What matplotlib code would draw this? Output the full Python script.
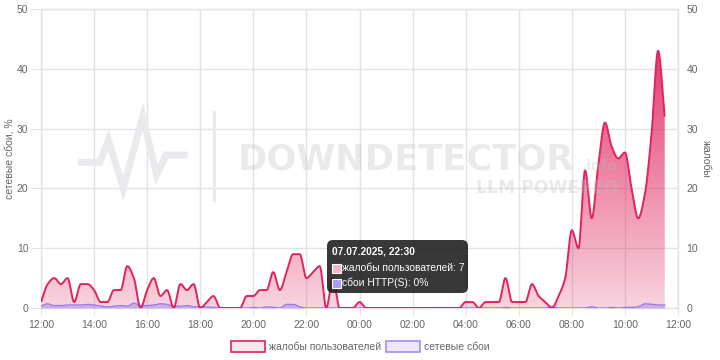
import numpy as np
import pandas as pd
import matplotlib
matplotlib.use("Agg")
import matplotlib.pyplot as plt
from matplotlib.patches import Polygon, Rectangle, FancyBboxPatch
from matplotlib.lines import Line2D
from matplotlib.transforms import IdentityTransform

plt.rcParams['font.family'] = ['Liberation Sans', 'DejaVu Sans']

# ---------------- data ----------------
start_time = "2025-07-07 12:00"
complaints = [1, 4, 5, 4, 5, 1, 4, 4, 3, 1, 1, 3, 3, 7, 5, 0,      # 12:00 - 15:45
              3, 5, 2, 3, 0, 4, 3, 4, 0, 1, 2, 0, 0, 0, 0, 2,      # 16:00 - 19:45
              2, 3, 3, 6, 3, 6, 9, 9, 5, 6, 7, 0, 5, 0, 0, 0,      # 20:00 - 23:45
              1, 0, 0, 0, 0, 0, 0, 0, 0, 0, 0, 0, 0, 0, 0, 0,      # 00:00 - 03:45
              1, 1, 0, 1, 1, 1, 5, 1, 1, 1, 4, 2, 1, 0, 2, 5,      # 04:00 - 07:45
              13, 10, 23, 15, 24, 31, 27, 25, 26, 20, 15, 19, 29, 43, 32]  # 08:00 - 11:30
http_failures = [0.3, 0.7, 0.4, 0.4, 0.5, 0.5, 0.5, 0.6, 0.5, 0.3, 0.2, 0.3, 0.4, 0.3, 0.8, 0.4,
                 0.4, 0.5, 0.7, 0.6, 0.3, 0.3, 0.4, 0.2, 0.2, 0.2, 0.1, 0.0, 0.0, 0.0, 0.0, 0.0,
                 0.1, 0.0, 0.2, 0.1, 0.0, 0.6, 0.6, 0.2, 0.0, 0.0, 0.0, 0.0, 0.0, 0.0, 0.0, 0.0,
                 0.0, 0.0, 0.0, 0.0, 0.0, 0.0, 0.0, 0.0, 0.0, 0.0, 0.0, 0.0, 0.0, 0.0, 0.0, 0.0,
                 0.0, 0.0, 0.0, 0.0, 0.0, 0.0, 0.1, 0.0, 0.0, 0.0, 0.0, 0.0, 0.0, 0.3, 0.0, 0.0,
                 0.0, 0.0, 0.0, 0.2, 0.0, 0.0, 0.1, 0.0, 0.1, 0.1, 0.2, 0.7, 0.6, 0.5, 0.5]
x_tick_labels = ["12:00", "14:00", "16:00", "18:00", "20:00", "22:00", "00:00",
                 "02:00", "04:00", "06:00", "08:00", "10:00", "12:00"]
y_ticks = [0, 10, 20, 30, 40, 50]
series_names = ["жалобы пользователей", "сетевые сбои"]
left_label = "сетевые сбои, %"
right_label = "жалобы"
tooltip_title = "07.07.2025, 22:30"
tooltip_rows = ["жалобы пользователей: 7", "сбои HTTP(S): 0%"]

times = pd.date_range(start_time, periods=len(complaints), freq="15min")
hours = np.asarray((times - times[0]).total_seconds() / 3600.0)
tick_hours = np.arange(len(x_tick_labels)) * 2


def pchip(x, y, xn):
    x = np.asarray(x, float)
    y = np.asarray(y, float)
    h = np.diff(x)
    d = np.diff(y) / h
    n = len(x)
    m = np.zeros(n)
    for k in range(1, n - 1):
        if d[k - 1] * d[k] > 0:
            w1 = 2 * h[k] + h[k - 1]
            w2 = h[k] + 2 * h[k - 1]
            m[k] = (w1 + w2) / (w1 / d[k - 1] + w2 / d[k])
    m[0] = d[0]
    m[-1] = d[-1]
    idx = np.clip(np.searchsorted(x, xn) - 1, 0, n - 2)
    t = (xn - x[idx]) / h[idx]
    h00 = 2 * t**3 - 3 * t**2 + 1
    h10 = t**3 - 2 * t**2 + t
    h01 = -2 * t**3 + 3 * t**2
    h11 = t**3 - t**2
    return h00 * y[idx] + h10 * h[idx] * m[idx] + h01 * y[idx + 1] + h11 * h[idx] * m[idx + 1]


xs = np.linspace(hours[0], hours[-1], 3000)
yc = np.clip(pchip(hours, complaints, xs), 0, None)
yh = np.clip(pchip(hours, http_failures, xs), 0, None)

# ---------------- figure ----------------
W, H = 720, 360
fig = plt.figure(figsize=(W / 100, H / 100), dpi=100)
ax = fig.add_axes([41 / W, 1 - 308 / H, 637 / W, 299 / H])
ax.set_xlim(0, 24)
ax.set_ylim(0, 50)

grid_c = '#e3e3e3'
lab_c = '#666666'
ax.set_xticks(tick_hours)
ax.set_xticklabels(x_tick_labels)
ax.set_yticks(y_ticks)
ax.grid(True, color=grid_c, lw=1)
ax.set_axisbelow(True)
ax.tick_params(axis='x', length=5, color=grid_c, labelcolor=lab_c, labelsize=7.5, pad=4)
ax.tick_params(axis='y', length=7, color=grid_c, labelcolor=lab_c, labelsize=7.5, pad=2)
for s in ax.spines.values():
    s.set_color(grid_c)
    s.set_linewidth(1)

ax2 = ax.twinx()
ax2.set_ylim(0, 50)
ax2.set_yticks(y_ticks)
ax2.tick_params(axis='y', length=0, labelcolor=lab_c, labelsize=7.5, pad=6)
for s in ax2.spines.values():
    s.set_visible(False)

pink = '#e0245e'
# gradient fill for complaints
verts = [(xs[0], 0)] + list(zip(xs, yc)) + [(xs[-1], 0)]
poly = Polygon(verts, closed=True, facecolor='none', edgecolor='none')
ax.add_patch(poly)
grad = np.zeros((256, 1, 4))
grad[:, 0, 0] = 224 / 255
grad[:, 0, 1] = 36 / 255
grad[:, 0, 2] = 94 / 255
grad[:, 0, 3] = np.linspace(0.2, 1.0, 256)
im = ax.imshow(grad, extent=[0, 24, 0, 50], origin='lower', aspect='auto', zorder=2,
               interpolation='bilinear')
im.set_clip_path(poly)

ax.fill_between(xs, yh, 0, color='#a98ff0', alpha=0.55, lw=0, zorder=3)
ax.plot(xs, yh, color='#9b7be8', lw=1.0, zorder=4)
ax.plot(xs, yc, color=pink, lw=1.4, zorder=5, solid_capstyle='butt')

# ---------------- axis labels ----------------
T = IdentityTransform()
fig.text(10, H - 159, left_label, transform=T, rotation=90, ha='center', va='center',
         fontsize=7.5, color=lab_c)
fig.text(706, H - 159, right_label, transform=T, rotation=270, ha='center', va='center',
         fontsize=7.5, color=lab_c)

# ---------------- watermark ----------------
wm = '#e9eaed'
hb_x = [81.7, 100, 108.3, 123.3, 142.7, 156.7, 166, 184]
hb_y = [162.3, 162.3, 140, 188.3, 116.7, 175, 155, 155]
fig.add_artist(Line2D(hb_x, [H - v for v in hb_y], transform=T, color=wm, lw=5,
                      solid_joinstyle='miter', zorder=1))
fig.add_artist(Line2D([214, 214], [H - 112, H - 200], transform=T, color=wm, lw=2.2, zorder=1))
fig.text(238, H - 170, "DOWNDETECTOR", transform=T, fontsize=25.4, fontweight='bold',
         family='DejaVu Sans', color='#b8bcc2', alpha=0.3, ha='left', va='baseline', zorder=6)
fig.text(617, H - 170, ".info", transform=T, fontsize=10, fontweight='bold',
         family='DejaVu Sans', color='#b8bcc2', alpha=0.3, ha='right', va='baseline', zorder=6)
fig.text(618, H - 193, "LLM POWERED", transform=T, fontsize=12.3, fontweight='bold',
         family='DejaVu Sans', color='#b8bcc2', alpha=0.3, ha='right', va='baseline', zorder=6)

# ---------------- tooltip ----------------
fig.add_artist(FancyBboxPatch((327, H - 293), 141, 53, boxstyle="round,pad=0,rounding_size=6",
                              transform=T, facecolor='#1c1c1c', edgecolor='none', alpha=0.88,
                              zorder=10))
fig.text(332, H - 251, tooltip_title, transform=T, fontsize=7.4, fontweight='bold',
         color='white', ha='left', va='center', zorder=11)
sq_cols = ['#f5b5c9', '#a99cf2']
for i, (row, c) in enumerate(zip(tooltip_rows, sq_cols)):
    yc_px = H - (268 + i * 15)
    fig.add_artist(Rectangle((331.5, yc_px - 4.5), 9, 9, transform=T, facecolor=c,
                             edgecolor='white', lw=0.8, zorder=11))
    fig.text(342, yc_px, row, transform=T, fontsize=7.4, color='white', ha='left',
             va='center', zorder=11)

# ---------------- legend ----------------
leg = [(231, '#fde6ee', pink, series_names[0]), (386, '#ece7fd', '#a78bfa', series_names[1])]
for x0, fc, ec, name in leg:
    fig.add_artist(Rectangle((x0, H - 352), 34, 11, transform=T, facecolor=fc, edgecolor=ec,
                             lw=1.2, zorder=11))
    fig.text(x0 + 38, H - 346.5, name, transform=T, fontsize=7.5, color=lab_c, ha='left',
             va='center', zorder=11)

fig.savefig("out.png", dpi=100)
